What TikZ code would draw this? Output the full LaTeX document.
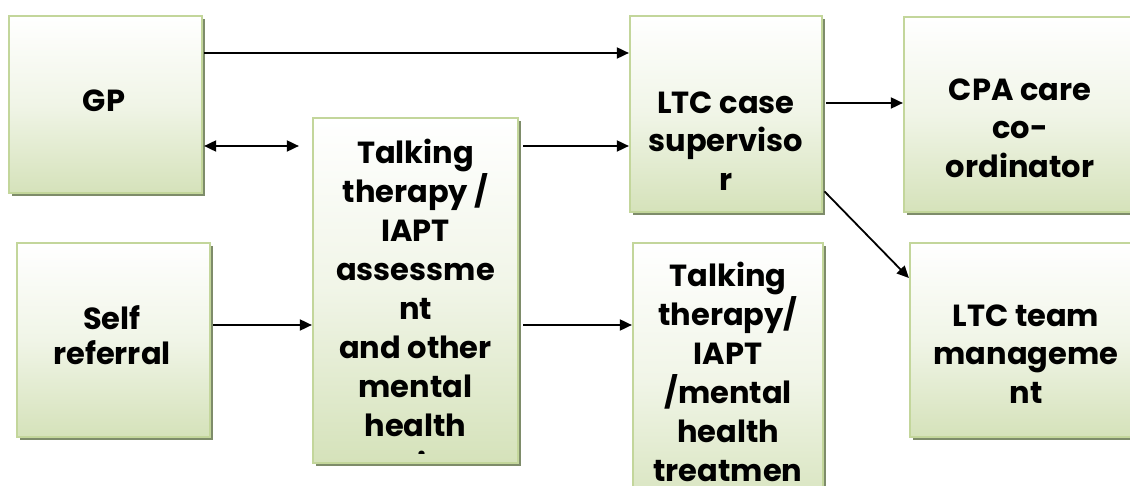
\documentclass[tikz,border=0pt]{standalone}
\usepackage{fontspec}
\setmainfont{Poppins}
\usetikzlibrary{arrows.meta,shadows}
\definecolor{boxline}{HTML}{C3D69B}
\definecolor{boxbot}{HTML}{D5E2BA}
\definecolor{boxshadow}{HTML}{7E8C6A}
\begin{document}
\begin{tikzpicture}[x=1pt,y=1pt,
  box/.style={draw=boxline, line width=2.2pt, top color=white, bottom color=boxbot,
    middle color=boxbot!35!white, inner sep=0pt,
    drop shadow={shadow xshift=3pt, shadow yshift=-3pt, fill=boxshadow, opacity=1}},
  txt/.style={anchor=north, inner sep=0pt, align=center,
    font=\fontsize{30.5}{38.5}\selectfont\bfseries},
  arr/.style={line width=1.8pt, -{Triangle[length=12pt,width=11pt]}},
  darr/.style={line width=1.8pt, {Triangle[length=12pt,width=11pt]}-{Triangle[length=12pt,width=11pt]}}]
\useasboundingbox (0,0) rectangle (1130,-486);
\clip (0,0) rectangle (1130,-486);
% boxes
\node[box, minimum width=193pt, minimum height=177pt] (gp) at (105.5,-104.5) {};
\node[box, minimum width=193pt, minimum height=194pt] (self) at (113.5,-340) {};
\node[box, minimum width=205pt, minimum height=345pt] (mid) at (415.5,-290.5) {};
\node[box, minimum width=192pt, minimum height=196pt] (ltc) at (726,-114) {};
\node[box, minimum width=233pt, minimum height=195pt] (cpa) at (1020.5,-114.5) {};
\node[box, minimum width=232pt, minimum height=194pt] (team) at (1026,-340) {};
\node[box, minimum width=190pt, minimum height=277pt] (treat) at (728,-381.5) {};
% texts
\node[txt] (gpt) at (104,-81) {\rule{0pt}{30pt}GP};
\node[txt, font=\fontsize{30.5}{35}\selectfont\bfseries] (selft) at (112,-299) {\rule{0pt}{30pt}Self\\referral};
\begin{scope}
  \clip ([shift={(1.1pt,11pt)}]mid.south west) rectangle ([shift={(-1.1pt,-1.1pt)}]mid.north east);
  \node[txt, font=\fontsize{30.5}{39}\selectfont\bfseries] (midt) at (415.5,-133)
    {\rule{0pt}{30pt}Talking\\therapy /\\IAPT\\assessme\\nt\\and other\\mental\\health\\services};
\end{scope}
\node[txt] (ltct) at (726,-83) {\rule{0pt}{30pt}LTC case\\superviso\\r};
\node[txt] (cpat) at (1020,-70) {\rule{0pt}{30pt}CPA care\\co-\\ordinator};
\node[txt] (teamt) at (1026,-296) {\rule{0pt}{30pt}LTC team\\manageme\\nt};
\node[txt, font=\fontsize{30.5}{39}\selectfont\bfseries] (treatt) at (728,-256)
  {\rule{0pt}{30pt}Talking\\therapy/\\IAPT\\/mental\\health\\treatmen};
% connectors
\draw[arr, shorten <=1pt] (gp.east |- 0,-53) -- (ltc.west |- 0,-53);
\draw[darr, shorten <=1pt, shorten >=13pt] (gp.east |- 0,-146) -- (mid.west |- 0,-146);
\draw[arr, shorten <=4pt] (mid.east |- 0,-146) -- (ltc.west |- 0,-146);
\draw[arr, shorten <=2pt] (self.east |- 0,-325) -- (mid.west |- 0,-325);
\draw[arr, shorten <=4pt] (mid.east |- 0,-325) -- (treat.west |- 0,-325);
\draw[arr, shorten <=3pt] (ltc.east |- 0,-103) -- (cpa.west |- 0,-103);
\draw[arr, shorten <=2pt] (ltc.east |- 0,-190) -- (team.west |- 0,-278);
\end{tikzpicture}
\end{document}
